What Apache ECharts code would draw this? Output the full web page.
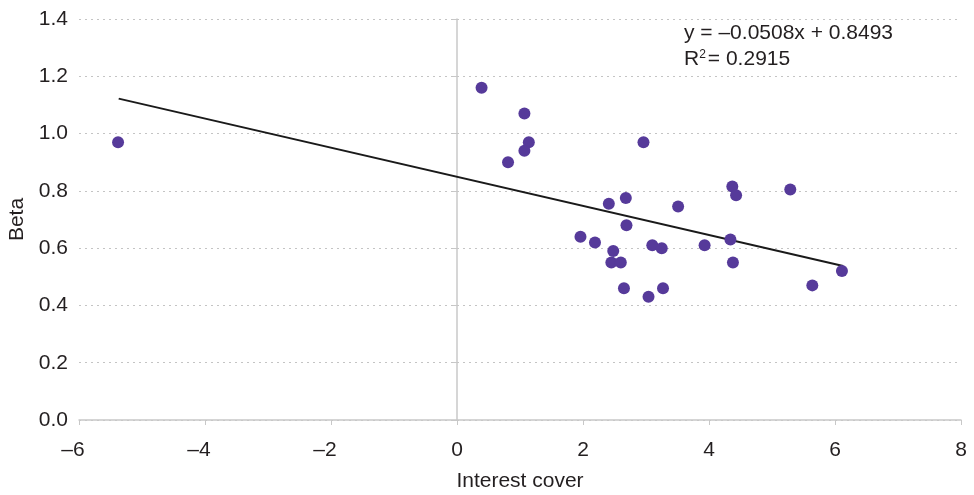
<!DOCTYPE html>
<html>
<head>
<meta charset="utf-8">
<script src="https://cdn.jsdelivr.net/npm/echarts@6/dist/echarts.min.js"></script>
<style>
html,body{margin:0;padding:0;background:#fff;}
#chart{width:974px;height:495px;}
</style>
</head>
<body>
<div id="chart"></div>
<script>
// Data
const interestCover = [-5.38, 0.39, 1.07, 1.14, 1.07, 0.81, 2.96, 4.37, 4.43, 5.29, 2.41, 2.68, 3.51, 2.69, 1.96, 2.19, 2.48, 2.45, 2.60, 3.10, 3.25, 3.93, 4.34, 4.38, 2.65, 3.04, 3.27, 5.64, 6.11];
const beta          = [0.97, 1.16, 1.07, 0.97, 0.94, 0.90, 0.97, 0.815, 0.785, 0.805, 0.755, 0.775, 0.745, 0.68, 0.64, 0.62, 0.59, 0.55, 0.55, 0.61, 0.60, 0.61, 0.63, 0.55, 0.46, 0.43, 0.46, 0.47, 0.52];
const trendX = [-5.37, 6.13];
const trendY = [1.122, 0.538];
const equationText = 'y = \u20130.0508x + 0.8493';
const r2Label = 'R';
const r2Value = '= 0.2915';
const xTicks = {min: -6, max: 8, interval: 2};
const yTicks = {min: 0, max: 1.4, interval: 0.2};
const xName = 'Interest cover';
const yName = 'Beta';

const points = interestCover.map((x, i) => [x, beta[i]]);
const trend = trendX.map((x, i) => [x, trendY[i]]);

const font = 'Liberation Sans, Arial, Helvetica, sans-serif';
const txt = '#231f20';
const axisGray = '#c8c8c8';
const fs = 21;

const chart = echarts.init(document.getElementById('chart'));
chart.setOption({
  animation: false,
  backgroundColor: '#fff',
  grid: {left: 79, right: 13, top: 19, bottom: 75, containLabel: false, outerBoundsMode: 'none'},
  xAxis: {
    type: 'value', min: xTicks.min, max: xTicks.max, interval: xTicks.interval,
    name: xName, nameLocation: 'middle', nameGap: 51,
    nameTextStyle: {fontFamily: font, fontSize: fs, color: txt},
    axisLine: {onZero: false, lineStyle: {color: axisGray, width: 1.5}},
    axisTick: {show: true, length: 5, lineStyle: {color: axisGray}},
    axisLabel: {fontFamily: font, fontSize: fs, color: txt, margin: 20,
      formatter: v => (v < 0 ? '{m|\u2013' + Math.abs(v) + '}' : '{n|' + v + '}'),
      rich: {
        n: {fontFamily: font, fontSize: fs, color: txt},
        m: {fontFamily: font, fontSize: fs, color: txt, padding: [0, 12, 0, 0]}
      }
    },
    splitLine: {show: false}
  },
  yAxis: [{
    type: 'value', min: yTicks.min, max: yTicks.max, interval: yTicks.interval,
    name: yName, nameLocation: 'middle', nameGap: 50, nameRotate: 90,
    nameTextStyle: {fontFamily: font, fontSize: fs, color: txt},
    axisLine: {show: false},
    axisTick: {show: false},
    axisLabel: {fontFamily: font, fontSize: fs, color: txt, margin: 11, padding: [0, 0, 4, 0],
      formatter: v => v.toFixed(1)},
    splitLine: {show: true, lineStyle: {color: '#c4c4c4', type: [2, 4], width: 1}}
  }, {
    type: 'value', min: yTicks.min, max: yTicks.max, interval: yTicks.interval,
    position: 'left', offset: -378,
    axisLine: {show: true, onZero: false, lineStyle: {color: axisGray, width: 1.5}},
    axisTick: {show: true, length: 4, lineStyle: {color: axisGray}},
    axisLabel: {show: false},
    splitLine: {show: false}
  }],
  series: [{
    type: 'line',
    data: trend,
    yAxisIndex: 0,
    symbol: 'none',
    lineStyle: {color: '#1a1a1a', width: 2},
    z: 3
  }, {
    type: 'scatter',
    data: points,
    yAxisIndex: 0,
    symbolSize: 12,
    itemStyle: {color: '#563a9a', opacity: 1},
    z: 4
  }],
  graphic: [{
    type: 'text', left: 684, top: 23,
    style: {text: equationText, font: fs + 'px ' + font, fill: txt}
  }, {
    type: 'text', left: 684, top: 49,
    style: {
      text: '{a|' + r2Label + '}{s|2}{a|' + r2Value + '}',
      rich: {
        a: {fontFamily: font, fontSize: fs, fill: txt, color: txt},
        s: {fontFamily: font, fontSize: 12, fill: txt, color: txt, verticalAlign: 'top', padding: [0, 2, 9, 0]}
      }
    }
  }]
});
</script>
</body>
</html>
